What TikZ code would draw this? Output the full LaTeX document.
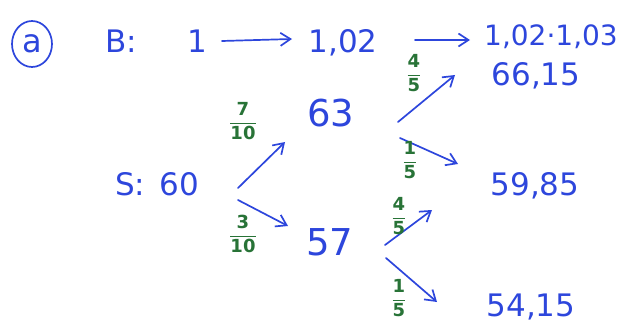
\documentclass[tikz,border=0pt]{standalone}
\usepackage{fontspec}
\setmainfont{DejaVu Sans}
\usetikzlibrary{arrows.meta,shapes.geometric}
\definecolor{pen}{RGB}{45,70,220}
\definecolor{grn}{RGB}{40,115,55}
\tikzset{
  val/.style={text=pen, font=\fontsize{31}{31}\selectfont, inner sep=2pt},
  big/.style={text=pen, font=\fontsize{37}{37}\selectfont, inner sep=2pt},
  frac/.style={text=grn, font=\fontsize{18}{18}\selectfont\bfseries, inner sep=1pt},
  arr/.style={draw=pen, line width=1.7pt, line cap=round, -{Straight Barb[length=10pt,width=13pt,line width=1.7pt]}},
}
\newcommand{\pfrac}[2]{$\displaystyle\frac{\mathbf{#1}}{\mathbf{#2}}$}
\begin{document}
\begin{tikzpicture}[x=1pt,y=-1pt]
\useasboundingbox (0,0) rectangle (624,326);
% circled a
\node[val, draw=pen, line width=1.7pt, ellipse, minimum width=40pt, minimum height=46pt, inner sep=0pt, font=\fontsize{32}{32}\selectfont] (lbl) at (32,44) {a};
% B row
\node[val, anchor=base] (B) at (124,53) {B:\,};
\node[val, anchor=base] (b1) at (197,53) {1};
\node[val, anchor=base] (b2) at (343,53) {1,02};
\node[val, anchor=base, font=\fontsize{28}{28}\selectfont] (b3) at (551,46) {1,02·1,03};
\coordinate (a1s) at (222,41);
\coordinate (a1e) at (292,39);
\draw[arr] (a1s) -- (a1e);
\coordinate (a2s) at (415,40);
\coordinate (a2e) at (470,40);
\draw[arr] (a2s) -- (a2e);
% S tree
\node[val, anchor=base] (S) at (157,195) {S:\hspace{14pt}60};
\node[big, anchor=base] (n63) at (331,127) {63};
\node[big, anchor=base] (n57) at (330,255) {57};
\node[val, anchor=base] (n66) at (536,86) {66,15};
\node[val, anchor=base] (n59) at (535,196) {59,85};
\node[val, anchor=base] (n54) at (531,316) {54,15};
\coordinate (s1) at (238,188); \coordinate (e1) at (285,142);
\coordinate (s2) at (238,200); \coordinate (e2) at (288,226);
\coordinate (s3) at (398,122); \coordinate (e3) at (455,75);
\coordinate (s4) at (400,138); \coordinate (e4) at (458,164);
\coordinate (s5) at (385,245); \coordinate (e5) at (432,210);
\coordinate (s6) at (386,258); \coordinate (e6) at (437,302);
\draw[arr] (s1) -- (e1);
\draw[arr] (s2) -- (e2);
\draw[arr] (s3) -- (e3);
\draw[arr] (s4) -- (e4);
\draw[arr] (s5) -- (e5);
\draw[arr] (s6) -- (e6);
% probabilities
\node[frac] (f1) at (243,121) {\pfrac{7}{10}};
\node[frac] (f2) at (243,234) {\pfrac{3}{10}};
\node[frac] (f3) at (414,73) {\pfrac{4}{5}};
\node[frac] (f4) at (410,160) {\pfrac{1}{5}};
\node[frac] (f5) at (399,216) {\pfrac{4}{5}};
\node[frac] (f6) at (399,298) {\pfrac{1}{5}};
\end{tikzpicture}
\end{document}
